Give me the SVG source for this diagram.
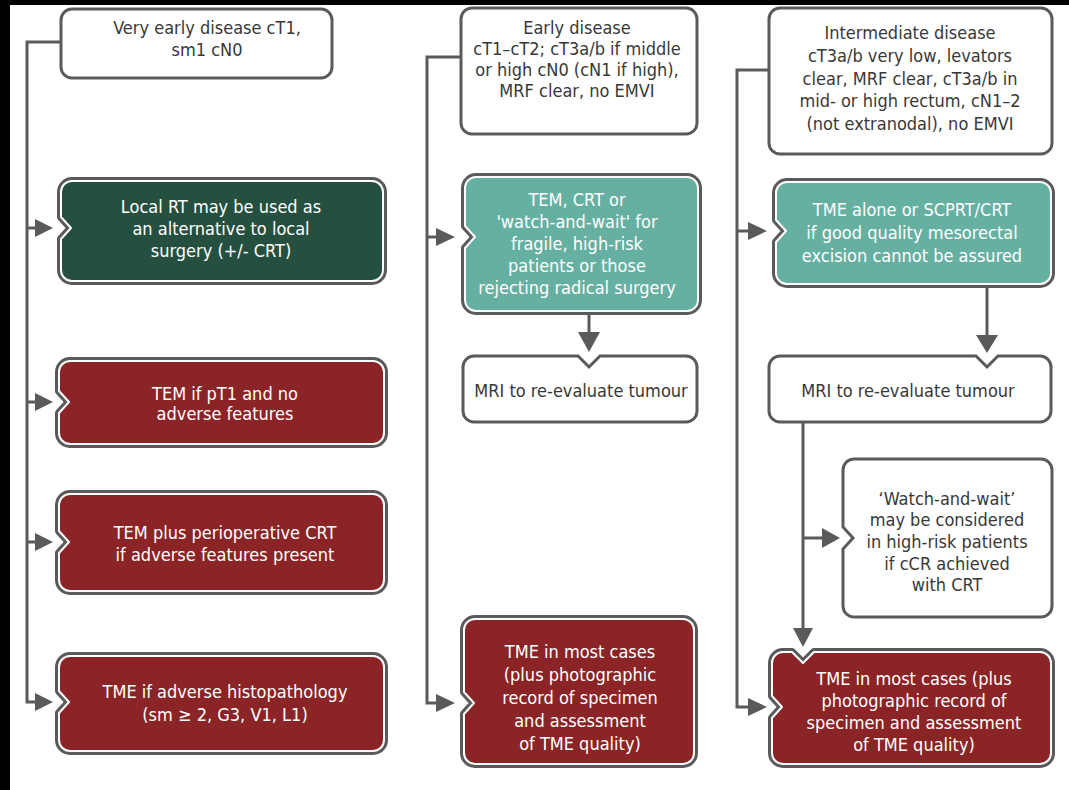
<svg xmlns="http://www.w3.org/2000/svg" width="1069" height="790" viewBox="0 0 1069 790">
<defs>
<style>
.bg{fill:#ffffff}
.frame{fill:#000000}
.wb{fill:#ffffff;stroke:#5a5a5a;stroke-width:3}
.cbo{stroke:#5a5a5a;stroke-width:8;stroke-linejoin:round}
.cbi{stroke:#ffffff;stroke-width:2;stroke-linejoin:round}
.green{fill:#25503f}
.teal{fill:#66b0a2}
.red{fill:#8b2426}
.ln{fill:none;stroke:#5a5a5a;stroke-width:3}
.ah{fill:#5a5a5a}
text{font-family:"DejaVu Sans Condensed","DejaVu Sans",sans-serif;font-stretch:condensed;font-size:18px;text-anchor:middle}
.dk{fill:#383838}
.wt{fill:#ffffff}
</style>
</defs>
<rect class="bg" x="0" y="0" width="1069" height="790"/>
<rect class="frame" x="0" y="0" width="1069" height="5"/>
<rect class="frame" x="0" y="0" width="10" height="790"/>

<g id="connectors">
<path class="ln" d="M61,42 H27 V702 H37"/>
<path class="ln" d="M27,228 H37 M27,402 H37 M27,542 H37"/>
<polygon class="ah" points="35,219 53,228 35,237"/>
<polygon class="ah" points="35,393 53,402 35,411"/>
<polygon class="ah" points="35,533 53,542 35,551"/>
<polygon class="ah" points="35,693 53,702 35,711"/>

<path class="ln" d="M461,57 H427 V703 H438"/>
<path class="ln" d="M427,237 H438"/>
<polygon class="ah" points="436,228 455,237 436,246"/>
<polygon class="ah" points="436,694 455,703 436,712"/>
<path class="ln" d="M589,313 V334"/>
<polygon class="ah" points="578,332 600,332 589,352"/>

<path class="ln" d="M769,70 H737 V707 H750"/>
<path class="ln" d="M737,231 H750"/>
<polygon class="ah" points="748,222 767,231 748,240"/>
<polygon class="ah" points="748,698 767,707 748,716"/>
<path class="ln" d="M987,286 V337"/>
<polygon class="ah" points="976,335 998,335 987,353"/>
<path class="ln" d="M803,423 V630 M803,538 H824"/>
<polygon class="ah" points="822,528 840,538 822,548"/>
<polygon class="ah" points="793,628 813,628 803,647"/>
</g>

<g id="n1">
<rect class="wb" x="61" y="9" width="271" height="69" rx="11"/>
<text class="dk" x="207" y="34">Very early disease cT1,</text>
<text class="dk" x="207" y="56">sm1 cN0</text>
</g>

<g id="n2">
<path class="cbo green" d="M72,181 H372 A11,11 0 0 1 383,192 V270 A11,11 0 0 1 372,281 H72 A11,11 0 0 1 61,270 V239 L71,228 L61,217 V192 A11,11 0 0 1 72,181 Z"/>
<path class="cbi green" d="M72,181 H372 A11,11 0 0 1 383,192 V270 A11,11 0 0 1 372,281 H72 A11,11 0 0 1 61,270 V239 L71,228 L61,217 V192 A11,11 0 0 1 72,181 Z"/>
<text class="wt" x="221" y="213">Local RT may be used as</text>
<text class="wt" x="221" y="235">an alternative to local</text>
<text class="wt" x="221" y="257">surgery (+/- CRT)</text>
</g>

<g id="n3">
<path class="cbo red" d="M70,361 H373 A11,11 0 0 1 384,372 V433 A11,11 0 0 1 373,444 H70 A11,11 0 0 1 59,433 V413 L69,402 L59,391 V372 A11,11 0 0 1 70,361 Z"/>
<path class="cbi red" d="M70,361 H373 A11,11 0 0 1 384,372 V433 A11,11 0 0 1 373,444 H70 A11,11 0 0 1 59,433 V413 L69,402 L59,391 V372 A11,11 0 0 1 70,361 Z"/>
<text class="wt" x="225" y="400">TEM if pT1 and no</text>
<text class="wt" x="225" y="420">adverse features</text>
</g>

<g id="n4">
<path class="cbo red" d="M70,494 H373 A11,11 0 0 1 384,505 V580 A11,11 0 0 1 373,591 H70 A11,11 0 0 1 59,580 V553 L69,542 L59,531 V505 A11,11 0 0 1 70,494 Z"/>
<path class="cbi red" d="M70,494 H373 A11,11 0 0 1 384,505 V580 A11,11 0 0 1 373,591 H70 A11,11 0 0 1 59,580 V553 L69,542 L59,531 V505 A11,11 0 0 1 70,494 Z"/>
<text class="wt" x="225" y="539">TEM plus perioperative CRT</text>
<text class="wt" x="225" y="561">if adverse features present</text>
</g>

<g id="n5">
<path class="cbo red" d="M70,656 H373 A11,11 0 0 1 384,667 V740 A11,11 0 0 1 373,751 H70 A11,11 0 0 1 59,740 V713 L69,702 L59,691 V667 A11,11 0 0 1 70,656 Z"/>
<path class="cbi red" d="M70,656 H373 A11,11 0 0 1 384,667 V740 A11,11 0 0 1 373,751 H70 A11,11 0 0 1 59,740 V713 L69,702 L59,691 V667 A11,11 0 0 1 70,656 Z"/>
<text class="wt" x="225" y="698">TME if adverse histopathology</text>
<text class="wt" x="225" y="721">(sm ≥ 2, G3, V1, L1)</text>
</g>

<g id="n6">
<rect class="wb" x="461" y="8" width="236" height="126" rx="11"/>
<text class="dk" x="577" y="34">Early disease</text>
<text class="dk" x="577" y="55">cT1–cT2; cT3a/b if middle</text>
<text class="dk" x="577" y="76">or high cN0 (cN1 if high),</text>
<text class="dk" x="577" y="97">MRF clear, no EMVI</text>
</g>

<g id="n7">
<path class="cbo teal" d="M476,177 H687 A11,11 0 0 1 698,188 V300 A11,11 0 0 1 687,311 H476 A11,11 0 0 1 465,300 V248 L475,237 L465,226 V188 A11,11 0 0 1 476,177 Z"/>
<path class="cbi teal" d="M476,177 H687 A11,11 0 0 1 698,188 V300 A11,11 0 0 1 687,311 H476 A11,11 0 0 1 465,300 V248 L475,237 L465,226 V188 A11,11 0 0 1 476,177 Z"/>
<text class="wt" x="577" y="206">TEM, CRT or</text>
<text class="wt" x="577" y="228">'watch-and-wait' for</text>
<text class="wt" x="577" y="250">fragile, high-risk</text>
<text class="wt" x="577" y="272">patients or those</text>
<text class="wt" x="577" y="294">rejecting radical surgery</text>
</g>

<g id="n8">
<path class="wb" d="M474,356 H578 L589,367 L600,356 H686 A11,11 0 0 1 697,367 V411 A11,11 0 0 1 686,422 H474 A11,11 0 0 1 463,411 V367 A11,11 0 0 1 474,356 Z"/>
<text class="dk" x="581" y="397">MRI to re-evaluate tumour</text>
</g>

<g id="n9">
<path class="cbo red" d="M475,619 H683 A11,11 0 0 1 694,630 V753 A11,11 0 0 1 683,764 H475 A11,11 0 0 1 464,753 V714 L474,703 L464,692 V630 A11,11 0 0 1 475,619 Z"/>
<path class="cbi red" d="M475,619 H683 A11,11 0 0 1 694,630 V753 A11,11 0 0 1 683,764 H475 A11,11 0 0 1 464,753 V714 L474,703 L464,692 V630 A11,11 0 0 1 475,619 Z"/>
<text class="wt" x="580" y="658">TME in most cases</text>
<text class="wt" x="580" y="681">(plus photographic</text>
<text class="wt" x="580" y="704">record of specimen</text>
<text class="wt" x="580" y="727">and assessment</text>
<text class="wt" x="580" y="750">of TME quality)</text>
</g>

<g id="n10">
<rect class="wb" x="769" y="8" width="283" height="146" rx="11"/>
<text class="dk" x="910" y="39">Intermediate disease</text>
<text class="dk" x="910" y="62">cT3a/b very low, levators</text>
<text class="dk" x="910" y="85">clear, MRF clear, cT3a/b in</text>
<text class="dk" x="910" y="107">mid- or high rectum, cN1–2</text>
<text class="dk" x="910" y="130">(not extranodal), no EMVI</text>
</g>

<g id="n11">
<path class="cbo teal" d="M787,182 H1040 A11,11 0 0 1 1051,193 V273 A11,11 0 0 1 1040,284 H787 A11,11 0 0 1 776,273 V242 L786,231 L776,220 V193 A11,11 0 0 1 787,182 Z"/>
<path class="cbi teal" d="M787,182 H1040 A11,11 0 0 1 1051,193 V273 A11,11 0 0 1 1040,284 H787 A11,11 0 0 1 776,273 V242 L786,231 L776,220 V193 A11,11 0 0 1 787,182 Z"/>
<text class="wt" x="912" y="216">TME alone or SCPRT/CRT</text>
<text class="wt" x="912" y="239">if good quality mesorectal</text>
<text class="wt" x="912" y="262">excision cannot be assured</text>
</g>

<g id="n12">
<path class="wb" d="M780,356 H976 L987,367 L998,356 H1040 A11,11 0 0 1 1051,367 V411 A11,11 0 0 1 1040,422 H780 A11,11 0 0 1 769,411 V367 A11,11 0 0 1 780,356 Z"/>
<text class="dk" x="908" y="397">MRI to re-evaluate tumour</text>
</g>

<g id="n13">
<path class="wb" d="M854,459 H1041 A11,11 0 0 1 1052,470 V606 A11,11 0 0 1 1041,617 H854 A11,11 0 0 1 843,606 V549 L853,538 L843,527 V470 A11,11 0 0 1 854,459 Z"/>
<text class="dk" x="947" y="505">‘Watch-and-wait’</text>
<text class="dk" x="947" y="526">may be considered</text>
<text class="dk" x="947" y="548">in high-risk patients</text>
<text class="dk" x="947" y="570">if cCR achieved</text>
<text class="dk" x="947" y="591">with CRT</text>
</g>

<g id="n14">
<path class="cbo red" d="M783,652 H792 L803,663 L814,652 H1040 A11,11 0 0 1 1051,663 V753 A11,11 0 0 1 1040,764 H783 A11,11 0 0 1 772,753 V718 L782,707 L772,696 V663 A11,11 0 0 1 783,652 Z"/>
<path class="cbi red" d="M783,652 H792 L803,663 L814,652 H1040 A11,11 0 0 1 1051,663 V753 A11,11 0 0 1 1040,764 H783 A11,11 0 0 1 772,753 V718 L782,707 L772,696 V663 A11,11 0 0 1 783,652 Z"/>
<text class="wt" x="914" y="685">TME in most cases (plus</text>
<text class="wt" x="914" y="707">photographic record of</text>
<text class="wt" x="914" y="729">specimen and assessment</text>
<text class="wt" x="914" y="751">of TME quality)</text>
</g>
</svg>
